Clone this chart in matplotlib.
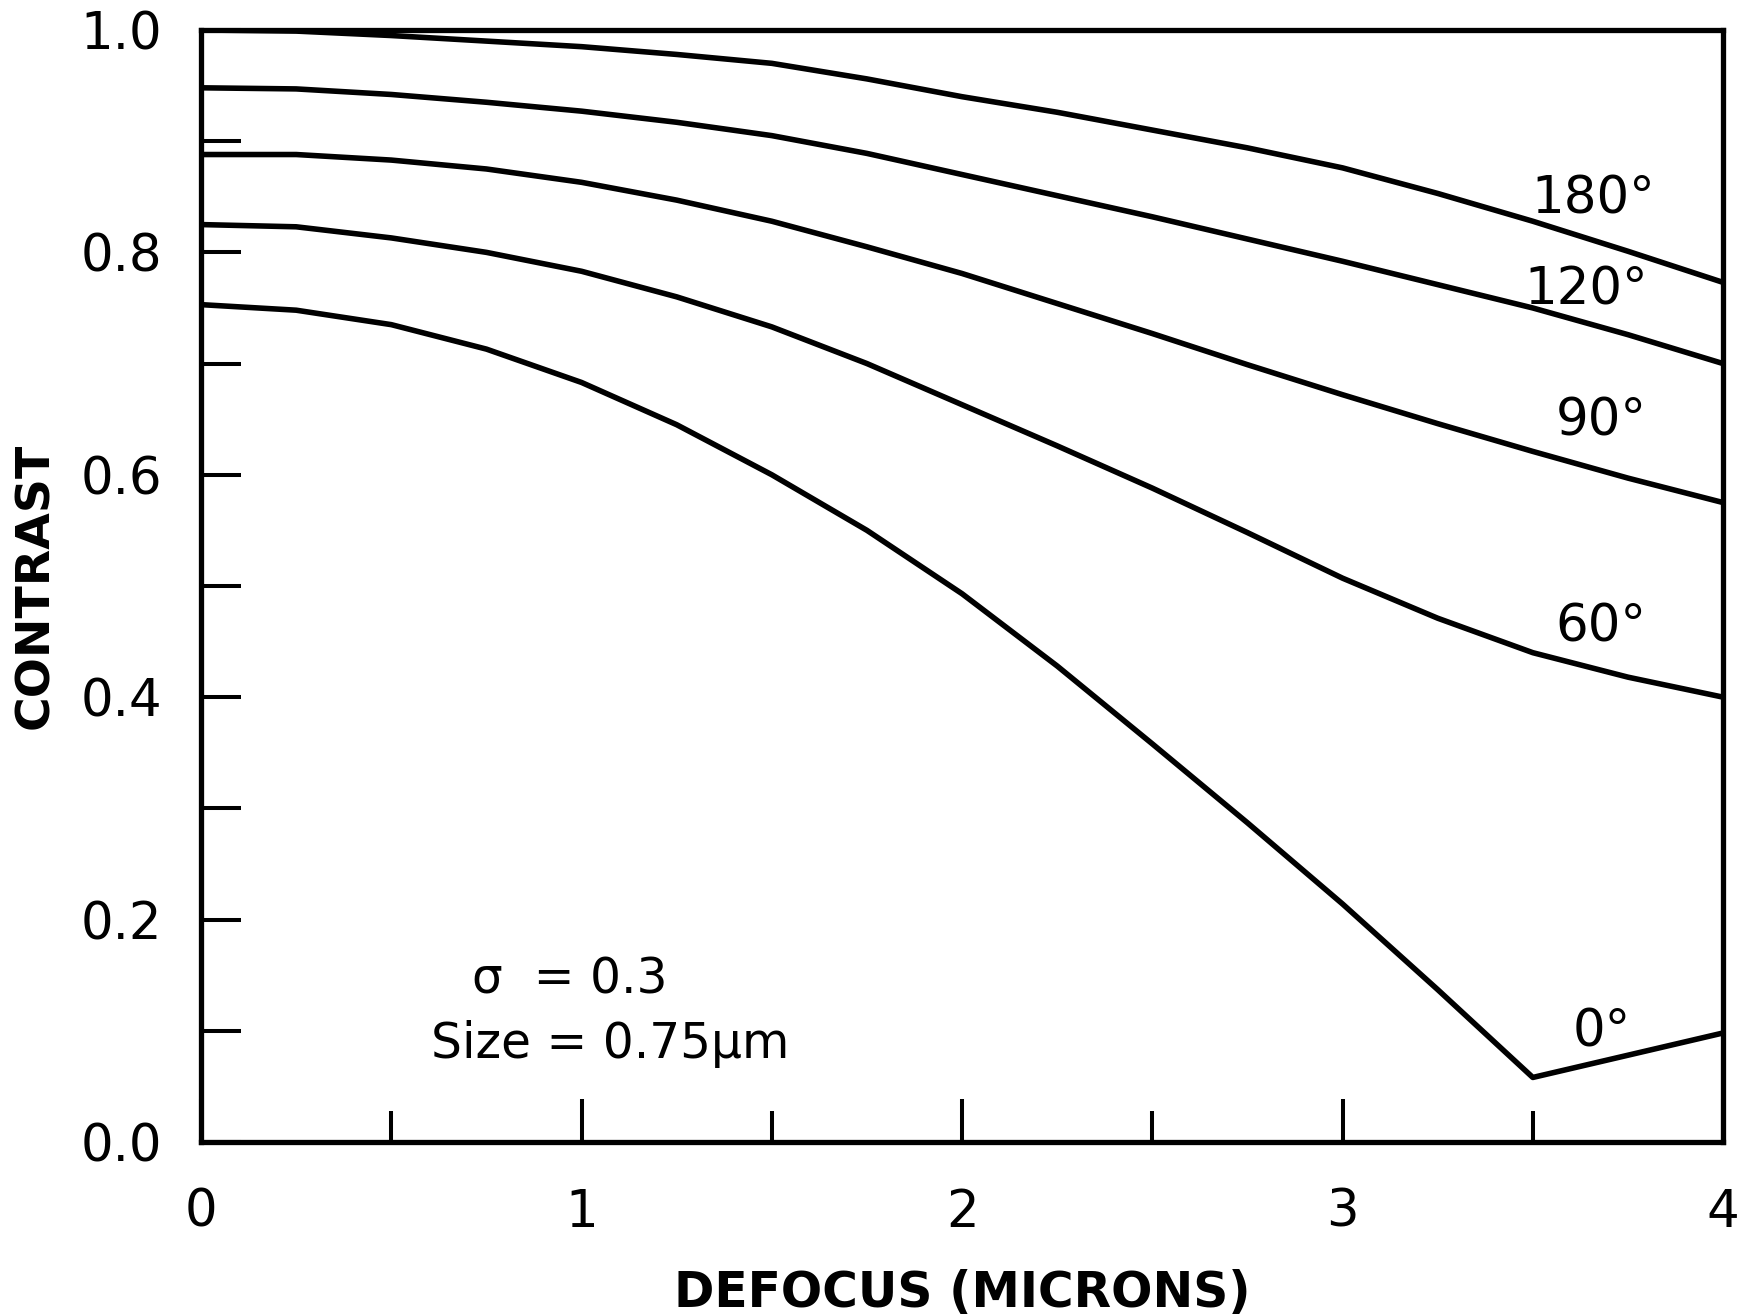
import matplotlib
matplotlib.use("Agg")
import matplotlib.pyplot as plt
from matplotlib.ticker import MultipleLocator, FixedLocator

# Data (defocus in microns, contrast)
defocus = [0.0, 0.25, 0.5, 0.75, 1.0, 1.25, 1.5, 1.75, 2.0,
           2.25, 2.5, 2.75, 3.0, 3.25, 3.5, 3.75, 4.0]
c180 = [1.000, 0.999, 0.995, 0.990, 0.985, 0.978, 0.970, 0.956, 0.940,
        0.926, 0.910, 0.894, 0.876, 0.853, 0.828, 0.801, 0.773]
c120 = [0.948, 0.947, 0.942, 0.935, 0.927, 0.917, 0.905, 0.889, 0.870,
        0.851, 0.832, 0.812, 0.792, 0.771, 0.750, 0.726, 0.700]
c90 = [0.888, 0.888, 0.883, 0.875, 0.863, 0.847, 0.828, 0.805, 0.781,
       0.754, 0.727, 0.699, 0.672, 0.646, 0.621, 0.597, 0.575]
c60 = [0.825, 0.823, 0.813, 0.800, 0.783, 0.760, 0.733, 0.700, 0.663,
       0.626, 0.588, 0.548, 0.507, 0.471, 0.440, 0.418, 0.400]
c0 = [0.753, 0.748, 0.735, 0.713, 0.683, 0.645, 0.600, 0.550, 0.493,
      0.428, 0.358, 0.287, 0.214, 0.137, 0.058, 0.078, 0.098]
series = [c180, c120, c90, c60, c0]
labels = ["180°", "120°", "90°", "60°", "0°"]
label_x = [3.66, 3.64, 3.68, 3.68, 3.68]
label_y = [0.848, 0.766, 0.648, 0.463, 0.098]

xticks = [0, 1, 2, 3, 4]
yticks = [0.0, 0.2, 0.4, 0.6, 0.8, 1.0]

plt.rcParams['font.family'] = ['DejaVu Sans']

fig = plt.figure(figsize=(17.41, 13.15), dpi=100)
ax = fig.add_axes([0.1155, 0.1316, 0.8742, 0.8456])

for s in series:
    ax.plot(defocus, s, color='black', lw=4.0, solid_joinstyle='round',
            solid_capstyle='butt')

for lab, lx, ly in zip(labels, label_x, label_y):
    ax.text(lx, ly, lab, fontsize=37, ha='center', va='center')

ax.text(0.97, 0.146, "σ  = 0.3", fontsize=35, ha='center', va='center')
ax.text(1.076, 0.088, "Size = 0.75μm", fontsize=35, ha='center', va='center')

ax.set_xlim(0, 4)
ax.set_ylim(0, 1.0)

ax.xaxis.set_major_locator(FixedLocator(xticks))
ax.xaxis.set_minor_locator(MultipleLocator(0.5))
ax.yaxis.set_major_locator(FixedLocator(yticks))
ax.yaxis.set_minor_locator(MultipleLocator(0.1))
ax.set_xticklabels([str(v) for v in xticks])
ax.set_yticklabels([f"{v:.1f}" for v in yticks])

ax.tick_params(axis='x', which='major', direction='in', length=31, width=2.9,
               labelsize=37, pad=33)
ax.tick_params(axis='x', which='minor', direction='in', length=22, width=2.9)
ax.tick_params(axis='y', which='both', direction='in', length=29, width=2.9,
               labelsize=37, pad=28)

for sp in ax.spines.values():
    sp.set_linewidth(3.8)

ax.set_xlabel("DEFOCUS (MICRONS)", fontsize=35, fontweight='bold')
ax.set_ylabel("CONTRAST", fontsize=34, fontweight='bold')
ax.xaxis.set_label_coords(0.5, -0.114)
ax.yaxis.set_label_coords(-0.094, 0.5)

fig.savefig("out.png", dpi=100)
